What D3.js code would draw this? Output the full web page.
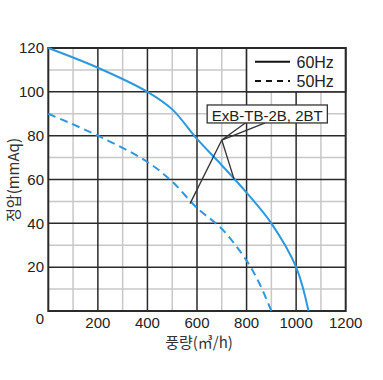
<!DOCTYPE html>
<html><head><meta charset="utf-8">
<script src="https://cdn.jsdelivr.net/npm/d3@7"></script>
<style>body{margin:0;background:#fff}svg{display:block}</style>
</head><body>
<script>
const flow60 = [0,200,400,500,600,700,800,900,1000,1050];
const pres60 = [120,111,100,92,78.5,66.5,54,40,20,0];
const flow50 = [0,200,400,500,600,700,800,850,900];
const pres50 = [90,80,68,59,47,37.5,23,13,0];
const xTicks = [200,400,600,800,1000,1200];
const yTicks = [20,40,60,80,100,120];
const legendLabels = ["60Hz","50Hz"];
const modelLabel = "ExB-TB-2B, 2BT";
const xTitle = "풍량(㎥/h)";
const yTitle = "정압(mmAq)";

const W=383,H=380;
const svg=d3.select("body").append("svg").attr("width",W).attr("height",H);
const x=d3.scaleLinear().domain([0,1200]).range([48.3,345.7]);
const y=d3.scaleLinear().domain([0,120]).range([311,48]);
const font="'Liberation Sans', Arial, sans-serif";

// minor grid
const g=svg.append("g");
g.selectAll(".mx").data(d3.range(100,1200,200)).join("line")
 .attr("x1",d=>x(d)).attr("x2",d=>x(d)).attr("y1",y(0)).attr("y2",y(120))
 .attr("stroke","#c8c8c8").attr("stroke-width",1.5);
g.selectAll(".my").data(d3.range(10,120,20)).join("line")
 .attr("y1",d=>y(d)).attr("y2",d=>y(d)).attr("x1",x(0)).attr("x2",x(1200))
 .attr("stroke","#c8c8c8").attr("stroke-width",1.5);
// major grid
g.selectAll(".Mx").data(d3.range(200,1200,200)).join("line")
 .attr("x1",d=>x(d)).attr("x2",d=>x(d)).attr("y1",y(0)).attr("y2",y(120))
 .attr("stroke","#2a2a2a").attr("stroke-width",1.5);
g.selectAll(".My").data(d3.range(20,120,20)).join("line")
 .attr("y1",d=>y(d)).attr("y2",d=>y(d)).attr("x1",x(0)).attr("x2",x(1200))
 .attr("stroke","#2a2a2a").attr("stroke-width",1.5);

// legend cell
svg.append("rect").attr("x",x(800)).attr("y",y(120)).attr("width",x(1200)-x(800)).attr("height",y(100)-y(120))
 .attr("fill","#fff").attr("stroke","#2a2a2a").attr("stroke-width",1.5);

// frame
svg.append("rect").attr("x",x(0)).attr("y",y(120)).attr("width",x(1200)-x(0)).attr("height",y(0)-y(120))
 .attr("fill","none").attr("stroke","#2a2a2a").attr("stroke-width",2);

// curves
const line=d3.line().curve(d3.curveCatmullRom.alpha(0.5));
svg.append("path").attr("d",line(flow60.map((f,i)=>[x(f),y(pres60[i])])))
 .attr("fill","none").attr("stroke","#2e98df").attr("stroke-width",2);
svg.append("path").attr("d",line(flow50.map((f,i)=>[x(f),y(pres50[i])])))
 .attr("fill","none").attr("stroke","#2e98df").attr("stroke-width",2).attr("stroke-dasharray","8,5");

// callout
const apex=[700,78];
const ann=svg.append("g").attr("stroke","#333").attr("stroke-width",1.3).attr("fill","none");
ann.append("line").attr("x1",x(apex[0])).attr("y1",y(apex[1])).attr("x2",x(572)).attr("y2",y(49));
ann.append("line").attr("x1",x(apex[0])).attr("y1",y(apex[1])).attr("x2",x(750)).attr("y2",y(60));
ann.append("path").attr("d",`M${x(795)},${y(85.8)}L${x(apex[0])},${y(apex[1])}L${x(875)},${y(85.8)}`);
svg.append("rect").attr("x",x(641)).attr("y",y(94)).attr("width",x(1126)-x(641)).attr("height",y(85.8)-y(94))
 .attr("fill","#fff").attr("stroke","#333").attr("stroke-width",1.3);
svg.append("text").attr("x",(x(641)+x(1126))/2).attr("y",y(86.8)).attr("text-anchor","middle")
 .attr("font-family",font).attr("font-size",15).attr("fill","#222").text(modelLabel);

// legend
const leg=[{t:legendLabels[0],ly:61.7,dash:null},{t:legendLabels[1],ly:81,dash:"6,5"}];
leg.forEach(l=>{
  svg.append("line").attr("x1",255).attr("x2",290).attr("y1",l.ly).attr("y2",l.ly)
   .attr("stroke","#111").attr("stroke-width",2).attr("stroke-dasharray",l.dash);
  svg.append("text").attr("x",296.5).attr("y",l.ly+5.8).attr("font-family",font).attr("font-size",16)
   .attr("fill","#222").text(l.t);
});

// ticks
svg.selectAll(".xt").data(xTicks).join("text").attr("x",d=>x(d)).attr("y",327.5)
 .attr("text-anchor","middle").attr("font-family",font).attr("font-size",15).attr("fill","#222").text(d=>d);
svg.selectAll(".yt").data(yTicks).join("text").attr("x",44).attr("y",d=>y(d)+5.3)
 .attr("text-anchor","end").attr("font-family",font).attr("font-size",15).attr("fill","#222").text(d=>d);
svg.append("text").attr("x",40).attr("y",323.5).attr("text-anchor","middle").attr("font-family",font)
 .attr("font-size",15).attr("fill","#222").text(0);

// titles
svg.append("text").attr("x",199).attr("y",347.5).attr("text-anchor","middle")
 .attr("font-family","'Noto Sans CJK KR', sans-serif").attr("font-size",15).attr("fill","#333").text(xTitle);
svg.append("text").attr("transform","translate(19,180) rotate(-90)").attr("text-anchor","middle")
 .attr("font-family","'Noto Sans CJK KR', sans-serif").attr("font-size",15).attr("fill","#333").text(yTitle);
</script>
</body></html>
